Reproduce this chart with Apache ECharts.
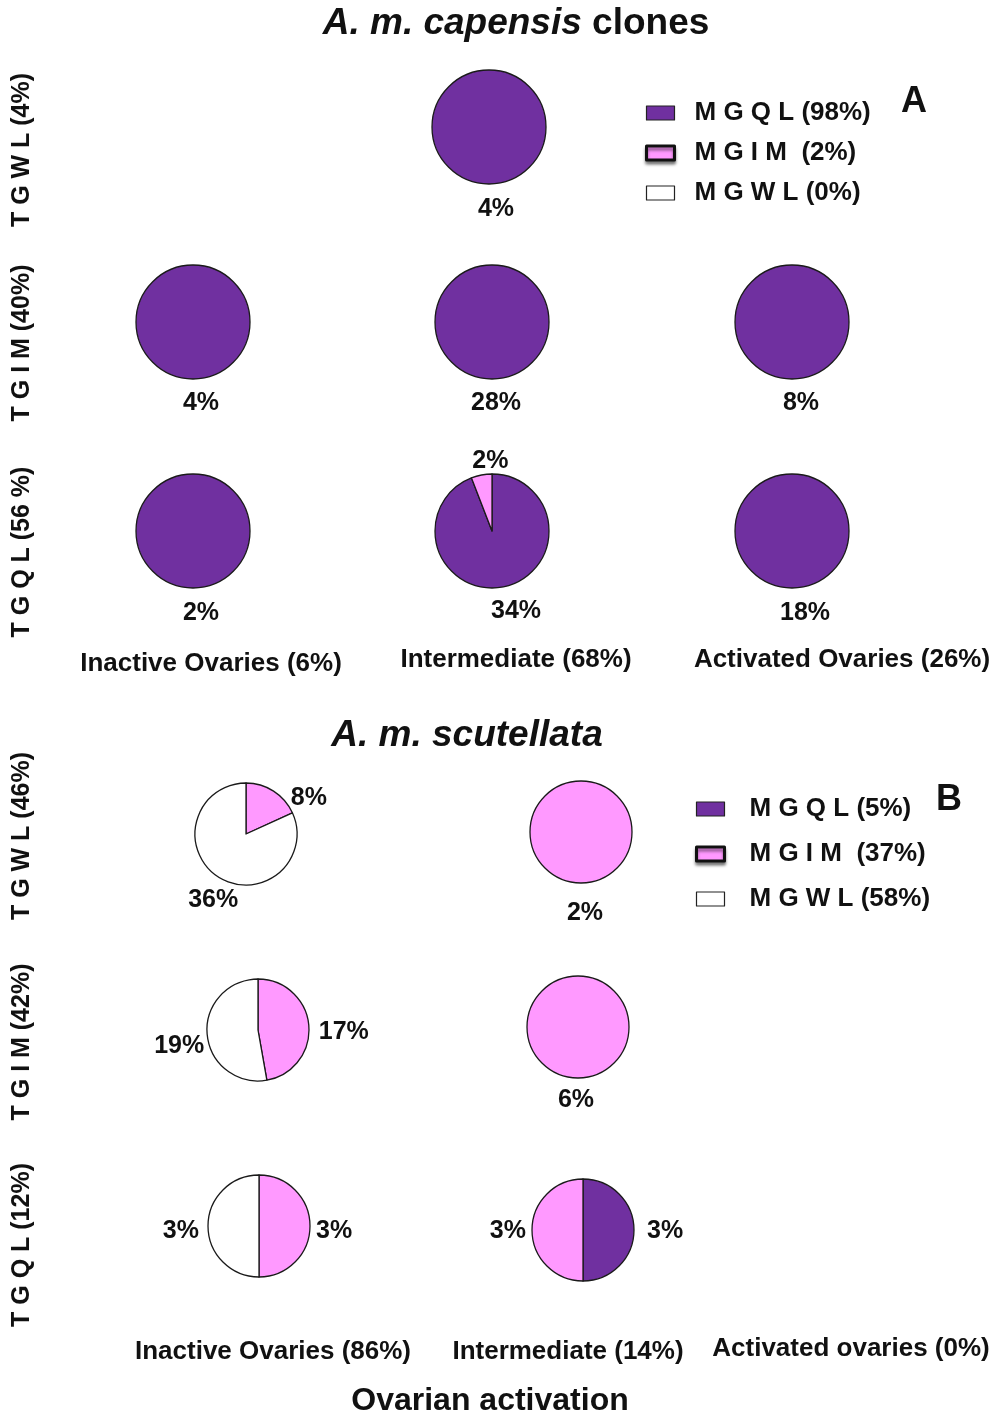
<!DOCTYPE html>
<html>
<head>
<meta charset="utf-8">
<script src="https://cdn.jsdelivr.net/npm/echarts@6/dist/echarts.min.js"></script>
<style>
  html, body { margin: 0; padding: 0; background: #fff; }
  #chart { width: 998px; height: 1417px; }
</style>
</head>
<body>
<div id="chart"></div>
<script>
// Genotype classes (queen/worker mtDNA haplotypes) in slice order, clockwise from 12 o'clock
const genotypeKeys = ['MGQL', 'MGIM', 'MGWL'];
const genotypeLabels = ['M G Q L ', 'M G I M  ', 'M G W L '];

// Panel A: A. m. capensis clones
const capensisShares = ['(98%)', '(2%)', '(0%)'];
const capensisRows = ['T G W L (4%)', 'T G I M (40%)', 'T G Q L (56 %)'];
const capensisCols = ['Inactive Ovaries (6%)', 'Intermediate (68%)', 'Activated Ovaries (26%)'];
// each cell: [MGQL, MGIM, MGWL] in %, null = no workers
const capensisTGWL = [null, [4, 0, 0], null];
const capensisTGIM = [[4, 0, 0], [28, 0, 0], [8, 0, 0]];
const capensisTGQL = [[2, 0, 0], [32, 2, 0], [18, 0, 0]];

// Panel B: A. m. scutellata
const scutellataShares = ['(5%)', '(37%)', '(58%)'];
const scutellataRows = ['T G W L (46%)', 'T G I M (42%)', 'T G Q L (12%)'];
const scutellataCols = ['Inactive Ovaries (86%)', 'Intermediate (14%)', 'Activated ovaries (0%)'];
const scutellataTGWL = [[0, 8, 36], [0, 2, 0], null];
const scutellataTGIM = [[0, 17, 19], [0, 6, 0], null];
const scutellataTGQL = [[0, 3, 3], [3, 3, 0], null];

// ---- styling / layout ----
const FONT = 'Liberation Sans, Arial, sans-serif';
const colors = ['#7030A0', '#FF99FF', '#FFFFFF'];
const BORDER = '#1a1a1a';

const panels = [
  {
    cells: [capensisTGWL, capensisTGIM, capensisTGQL],
    rows: capensisRows, cols: capensisCols, shares: capensisShares,
    centers: [[null, [489, 127], null], [[193, 322], [492, 322], [792, 322]], [[193, 531], [492, 531], [792, 531]]],
    radius: 57,
    // offset of the total label from the pie centre
    totalOffset: [[null, [7, 82], null], [[8, 81], [4, 81], [9, 81]], [[8, 82], [24, 80], [13, 82]]],
    // nudges of slice labels, per genotype [MGQL, MGIM, MGWL]
    nudge: [[null, null, null], [null, null, null], [null, [null, [33, -8], null], null]],
    rowLabelY: [150, 343, 552], colLabelX: [211, 516, 842], colLabelY: [664, 660, 660],
    totalBelow: true, labelMajor: false
  },
  {
    cells: [scutellataTGWL, scutellataTGIM, scutellataTGQL],
    rows: scutellataRows, cols: scutellataCols, shares: scutellataShares,
    centers: [[[246, 834], [581, 832]], [[258, 1030], [578, 1027]], [[259, 1226], [583, 1230]]],
    radius: 51,
    totalOffset: [[null, [4, 81]], [null, [-2, 73]], [null, null]],
    nudge: [
      [[null, [9, 12], [28, 18]], null],
      [[null, [-1, 7], [8, 11]], null],
      [[null, [-5, 5], [2, 5]], [[2, 1], [5, 1], null]]
    ],
    rowLabelY: [836, 1042, 1245], colLabelX: [273, 568, 851], colLabelY: [1352, 1352, 1349],
    totalBelow: false, labelMajor: true
  }
];

const series = [];
const graphic = [];

function text(x, y, str, size, extra) {
  return {
    type: 'text', x: x, y: y, silent: true,
    style: Object.assign({
      text: str, fontFamily: FONT, fontWeight: 'bold', fontSize: size,
      fill: '#111', align: 'center', verticalAlign: 'middle'
    }, extra || {})
  };
}

panels.forEach((p) => {
  p.cells.forEach((row, ri) => {
    row.forEach((vals, ci) => {
      if (!vals) return;
      const center = p.centers[ri][ci];
      const nonzero = vals.filter(v => v > 0).length;
      const total = vals.reduce((a, b) => a + b, 0);
      const cellNudge = p.nudge[ri][ci] || [];
      const data = [];
      const nudges = [];
      vals.forEach((v, gi) => {
        if (v <= 0) return;
        const showLabel = nonzero > 1 && (p.labelMajor || gi !== 0);
        data.push({
          name: genotypeKeys[gi], value: v,
          itemStyle: { color: colors[gi] },
          label: { show: showLabel }
        });
        nudges.push(cellNudge[gi] || [0, 0]);
      });
      series.push({
        type: 'pie',
        center: center,
        radius: p.radius,
        startAngle: 90,
        clockwise: true,
        avoidLabelOverlap: false,
        silent: true,
        emphasis: { disabled: true },
        itemStyle: { borderColor: BORDER, borderWidth: 1.3 },
        label: {
          position: 'outside', formatter: '{c}%',
          fontFamily: FONT, fontWeight: 'bold', fontSize: 25, color: '#111'
        },
        labelLine: { show: false, length: 6, length2: 0 },
        labelLayout: params => {
          const n = nudges[params.dataIndex] || [0, 0];
          return { dx: n[0], dy: n[1] };
        },
        data: data
      });
      if (nonzero === 1 || p.totalBelow) {
        const off = p.totalOffset[ri][ci];
        graphic.push(text(center[0] + off[0], center[1] + off[1], total + '%', 25));
      }
    });
  });
  // row labels (worker genotype), rotated
  p.rows.forEach((r, ri) => {
    const g = text(22, p.rowLabelY[ri], r, 25);
    g.rotation = Math.PI / 2;
    graphic.push(g);
  });
  // column labels (ovary state)
  p.cols.forEach((c, ci) => {
    graphic.push(text(p.colLabelX[ci], p.colLabelY[ci], c, 26));
  });
});

// panel titles
graphic.push(text(516, 24, '{i|A. m. capensis} clones', 37, {
  rich: { i: { fontStyle: 'italic', fontWeight: 'bold', fontSize: 37, fontFamily: FONT, fill: '#111' } }
}));
graphic.push(text(467, 736, 'A. m. scutellata', 37, { fontStyle: 'italic' }));
graphic.push(text(914, 102, 'A', 36));
graphic.push(text(949, 800, 'B', 36));
graphic.push(text(490, 1401, 'Ovarian activation', 32));

function legendData() {
  return genotypeKeys.map((k, gi) => ({
    name: k,
    itemStyle: gi === 1
      ? { color: colors[gi], borderColor: '#111', borderWidth: 3,
          shadowColor: 'rgba(0,0,0,0.45)', shadowBlur: 3, shadowOffsetY: 3 }
      : { color: colors[gi], borderColor: '#222', borderWidth: 1.2 }
  }));
}
function legend(p, left, top, gap, pad) {
  return {
    orient: 'vertical', left: left, top: top, selectedMode: false,
    icon: 'rect', itemWidth: 28, itemHeight: 14, itemGap: gap,
    data: legendData(),
    formatter: name => {
      const gi = genotypeKeys.indexOf(name);
      return genotypeLabels[gi] + p.shares[gi];
    },
    textStyle: {
      fontFamily: FONT, fontWeight: 'bold', fontSize: 26, color: '#111',
      lineHeight: 26, padding: [0, 0, 0, pad]
    }
  };
}

const chart = echarts.init(document.getElementById('chart'), null, { renderer: 'canvas' });
chart.setOption({
  animation: false,
  backgroundColor: '#fff',
  legend: [legend(panels[0], 640, 95, 14, 15), legend(panels[1], 690, 791, 19, 20)],
  series: series,
  graphic: graphic
});
</script>
</body>
</html>
